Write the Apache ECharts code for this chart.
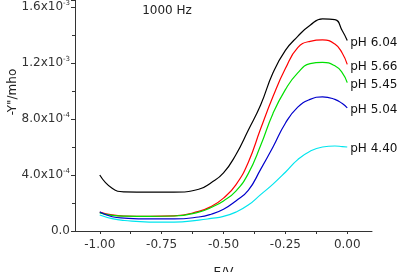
<!DOCTYPE html>
<html>
<head>
<meta charset="utf-8">
<script src="https://cdn.jsdelivr.net/npm/echarts@6/dist/echarts.min.js"></script>
<style>
  html, body { margin: 0; padding: 0; background: #fff; }
  #chart { width: 406px; height: 272px; }
</style>
</head>
<body>
<div id="chart"></div>
<script>
// potential / V
const potential = [-1.0, -0.95, -0.9, -0.8, -0.7, -0.6, -0.55, -0.5, -0.45, -0.4, -0.35, -0.3, -0.25, -0.2, -0.15, -0.1, -0.05, -0.02, 0.0]

// -Y'' / mho, one array per pH
const ph604 = [4.0e-4, 3.05e-4, 2.8e-4, 2.78e-4, 2.78e-4, 2.98e-4, 3.45e-4, 4.15e-4, 5.45e-4, 7.2e-4, 9.0e-4, 1.13e-3, 1.29e-3, 1.39e-3, 1.47e-3, 1.515e-3, 1.51e-3, 1.43e-3, 1.36e-3]
const ph566 = [1.36e-4, 1.15e-4, 1.07e-4, 1.05e-4, 1.08e-4, 1.4e-4, 1.75e-4, 2.35e-4, 3.3e-4, 4.9e-4, 7.3e-4, 9.6e-4, 1.16e-3, 1.31e-3, 1.355e-3, 1.365e-3, 1.335e-3, 1.27e-3, 1.19e-3]
const ph545 = [1.3e-4, 1.12e-4, 1.06e-4, 1.04e-4, 1.07e-4, 1.35e-4, 1.68e-4, 2.15e-4, 2.85e-4, 4.1e-4, 6.1e-4, 8.4e-4, 1.01e-3, 1.13e-3, 1.195e-3, 1.205e-3, 1.18e-3, 1.13e-3, 1.06e-3]
const ph504 = [1.36e-4, 1.02e-4, 0.92e-4, 0.86e-4, 0.86e-4, 1.0e-4, 1.2e-4, 1.55e-4, 2.15e-4, 2.9e-4, 4.4e-4, 6.0e-4, 7.7e-4, 8.85e-4, 9.4e-4, 9.58e-4, 9.4e-4, 9.1e-4, 8.8e-4]
const ph440 = [1.14e-4, 0.88e-4, 0.75e-4, 0.64e-4, 0.64e-4, 0.78e-4, 0.9e-4, 1.05e-4, 1.35e-4, 1.85e-4, 2.6e-4, 3.35e-4, 4.2e-4, 5.1e-4, 5.7e-4, 6.0e-4, 6.07e-4, 6.03e-4, 6.0e-4]

const seriesNames = ['pH 6.04', 'pH 5.66', 'pH 5.45', 'pH 5.04', 'pH 4.40']
const seriesValues = [ph604, ph566, ph545, ph504, ph440]
const seriesColors = ['#000000', '#ff0000', '#00e000', '#0000cc', '#00e5ee']

const xLabelValues = [-1.0, -0.75, -0.5, -0.25, 0.0]
const xTickValues = [-1.0, -0.875, -0.75, -0.625, -0.5, -0.375, -0.25, -0.125, 0.0]
// y tick labels: mantissa + exponent
const yTickLabels = { 0: ['0.0', ''], 4: ['4.0x10', '-4'], 8: ['8.0x10', '-4'], 12: ['1.2x10', '-3'], 16: ['1.6x10', '-3'] }

const FONT = 'DejaVu Sans'
const chart = echarts.init(document.getElementById('chart'))

chart.setOption({
  animation: false,
  textStyle: { fontFamily: FONT },
  grid: { left: 75, right: 34, top: 0, bottom: 41, outerBoundsMode: 'none' },
  title: {
    text: '1000 Hz', left: 162, top: 0, textAlign: 'center',
    textStyle: { fontFamily: FONT, fontSize: 12, fontWeight: 'normal', color: '#222' },
  },
  graphic: [{
    type: 'text', x: 13, y: 92, rotation: Math.PI / 2,
    style: { text: '-Y"/mho', font: '12px "DejaVu Sans"', fill: '#222', align: 'center', verticalAlign: 'middle' },
  }],
  xAxis: {
    type: 'value', min: -1.1, max: 0.1,
    name: 'E/V', nameLocation: 'middle', nameGap: 36,
    nameTextStyle: { fontFamily: FONT, fontSize: 12, color: '#222' },
    splitLine: { show: false },
    axisLine: { show: true, onZero: false, lineStyle: { color: '#333', width: 1 } },
    axisTick: { show: true, customValues: xTickValues, length: 3, lineStyle: { color: '#333' } },
    axisLabel: { customValues: xLabelValues, formatter: (v) => v.toFixed(2), color: '#333', fontSize: 12, margin: 8 },
  },
  yAxis: {
    type: 'value', min: 0, max: 1.65e-3, interval: 4e-4,
    splitLine: { show: false },
    axisLine: { show: true, onZero: false, lineStyle: { color: '#333', width: 1 } },
    axisTick: { show: true, length: 4, lineStyle: { color: '#333' } },
    minorTick: { show: true, splitNumber: 2, length: 3, lineStyle: { color: '#333' } },
    axisLabel: {
      color: '#333', margin: 5,
      formatter: (v) => {
        const k = Math.round(v * 1e4)
        const t = yTickLabels[k]
        if (!t) return ''
        return t[1] ? `{m|${t[0]}}{e|${t[1]}}` : `{m|${t[0]}}`
      },
      rich: {
        m: { fontFamily: FONT, fontSize: 12, color: '#333' },
        e: { fontFamily: FONT, fontSize: 7, color: '#333', padding: [0, 0, 8, 0] },
      },
    },
  },
  series: seriesValues.map((vals, i) => ({
    name: seriesNames[i], type: 'line', smooth: true, showSymbol: false,
    lineStyle: { color: seriesColors[i], width: 1.2 },
    data: potential.map((x, j) => [x, vals[j]]),
    endLabel: { show: true, formatter: seriesNames[i], color: '#111', fontFamily: FONT, fontSize: 12, distance: 3, offset: [0, 2] },
  })),
})
</script>
</body>
</html>
